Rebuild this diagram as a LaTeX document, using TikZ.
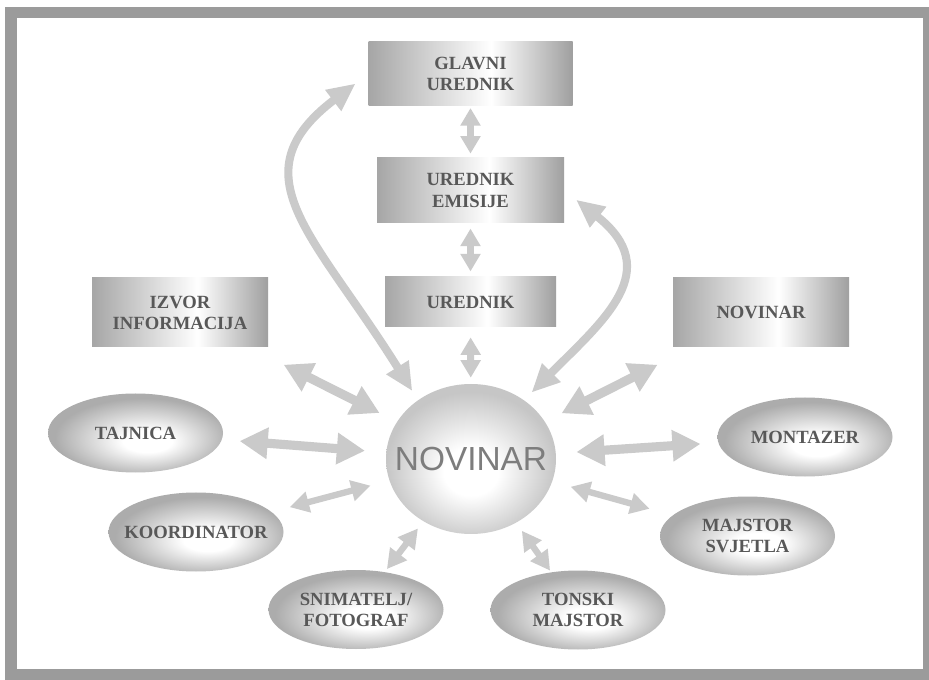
\documentclass[tikz,border=0pt]{standalone}
\usepackage{fontspec}
\setmainfont{Liberation Serif}
\newfontfamily\bigsans{Liberation Sans}
\usetikzlibrary{arrows.meta,shapes.geometric}

\definecolor{framegray}{RGB}{155,155,155}
\definecolor{arrgray}{RGB}{202,202,202}
\definecolor{txtgray}{RGB}{88,88,88}
\definecolor{nvgray}{RGB}{125,125,125}
\pgfdeclarehorizontalshading{boxshade}{100bp}{color(0bp)=(gray!70); color(25bp)=(gray!70); color(55bp)=(white); color(75bp)=(gray!75); color(100bp)=(gray!75)}
\pgfdeclareradialshading{ovalshade}{\pgfpoint{4bp}{-6bp}}{color(0bp)=(white); color(7bp)=(white); color(25bp)=(gray!65); color(50bp)=(gray!65)}
\pgfdeclareradialshading{ballshade}{\pgfpoint{0bp}{-5bp}}{color(0bp)=(white); color(8bp)=(white); color(25bp)=(gray!45); color(50bp)=(gray!45)}

\begin{document}
\begin{tikzpicture}
    \tikzset{box/.style = {shape=rectangle,shading=boxshade,minimum width=3.52cm,minimum height=1.38cm,inner sep=0pt,text=txtgray,font=\bfseries\fontsize{10.6}{12}\selectfont,align=center}}
    \tikzset{oval/.style = {shape=ellipse,shading=ovalshade,minimum width=3.5cm,minimum height=1.58cm,inner xsep=-12pt,inner ysep=0pt,text=txtgray,font=\bfseries\fontsize{10.6}{12}\selectfont,align=center}}
    \tikzset{ball/.style = {shape=ellipse,shading=ballshade,minimum width=3.4cm,minimum height=3.0cm,inner xsep=-12pt,inner ysep=0pt,text=nvgray,font=\bigsans\fontsize{19}{19}\selectfont}}
    \tikzset{dblbig/.style = {color=arrgray,line width=5.2pt,>={Triangle[width=17pt,length=16pt]},<->}}
    \tikzset{dblmid/.style = {color=arrgray,line width=4pt,>={Triangle[width=11pt,length=10pt]},<->}}
    \tikzset{dblsmall/.style = {color=arrgray,line width=3.6pt,>={Triangle[width=11.5pt,length=11pt]},<->}}
    \tikzset{curvy/.style = {color=arrgray,line width=4.6pt,>={Triangle[width=14pt,length=16pt]},<->}}
    % frame
    \fill[white] (0,0) rectangle (18.58,-13.60);
    \fill[framegray] (0.10,-0.14) rectangle (18.58,-13.60);
    \fill[white] (0.34,-0.36) rectangle (18.46,-13.38);
    % boxes
    \node[box,minimum width=4.08cm,minimum height=1.28cm] (glavni) at (9.41,-1.48) {GLAVNI\\UREDNIK};
    \node[box,minimum width=3.74cm,minimum height=1.30cm] (emisije) at (9.41,-3.81) {UREDNIK\\EMISIJE};
    \node[box,minimum width=3.42cm,minimum height=1.00cm] (urednik) at (9.41,-6.04) {UREDNIK};
    \node[box] (izvor) at (3.60,-6.25) {IZVOR\\INFORMACIJA};
    \node[box] (novbox) at (15.22,-6.25) {NOVINAR};
    % centre
    \node[ball] (nov) at (9.42,-9.18) {NOVINAR};
    % ovals
    \node[oval] (tajnica) at (2.71,-8.66) {TAJNICA};
    \node[oval] (koord) at (3.92,-10.64) {KOORDINATOR};
    \node[oval] (snim) at (7.12,-12.19) {SNIMATELJ/\\FOTOGRAF};
    \node[oval] (tonski) at (11.56,-12.20) {TONSKI\\MAJSTOR};
    \node[oval] (majstor) at (14.95,-10.72) {MAJSTOR\\SVJETLA};
    \node[oval] (montazer) at (16.10,-8.74) {MONTAZER};
    % edges
    \path[dblmid] (glavni) edge[shorten <=1pt,shorten >=2.3pt] (emisije);
    \path[dblmid] (emisije) edge[shorten <=3pt,shorten >=3pt] (urednik);
    \path[dblmid] (urednik) edge[shorten <=5.7pt,shorten >=3.4pt] (nov);
    \path[dblbig] (izvor) edge[shorten <=22pt,shorten >=11pt] (nov);
    \path[dblbig] (novbox) edge[shorten <=22pt,shorten >=10.5pt] (nov);
    \path[dblbig] (tajnica) edge[shorten <=10pt,shorten >=12pt] (nov);
    \path[dblbig] (montazer) edge[shorten <=10pt,shorten >=11.6pt] (nov);
    \path[dblsmall] (koord) edge[shorten <=10.5pt,shorten >=11pt] (nov);
    \path[dblsmall] (majstor) edge[shorten <=13.6pt,shorten >=10.8pt] (nov);
    \path[dblsmall] (snim) edge[shorten <=2pt,shorten >=5pt] (nov);
    \path[dblsmall] (tonski) edge[shorten <=1pt,shorten >=5.5pt] (nov);
    \draw[curvy,shorten <=6pt,shorten >=9pt] (nov.132) .. controls (6.30,-4.70) and (4.70,-3.50) .. (glavni.west);
    \draw[curvy,shorten <=6pt,shorten >=8.5pt] (nov.48) .. controls (12.08,-6.40) and (13.30,-5.40) .. (emisije.east);
\end{tikzpicture}
\end{document}
